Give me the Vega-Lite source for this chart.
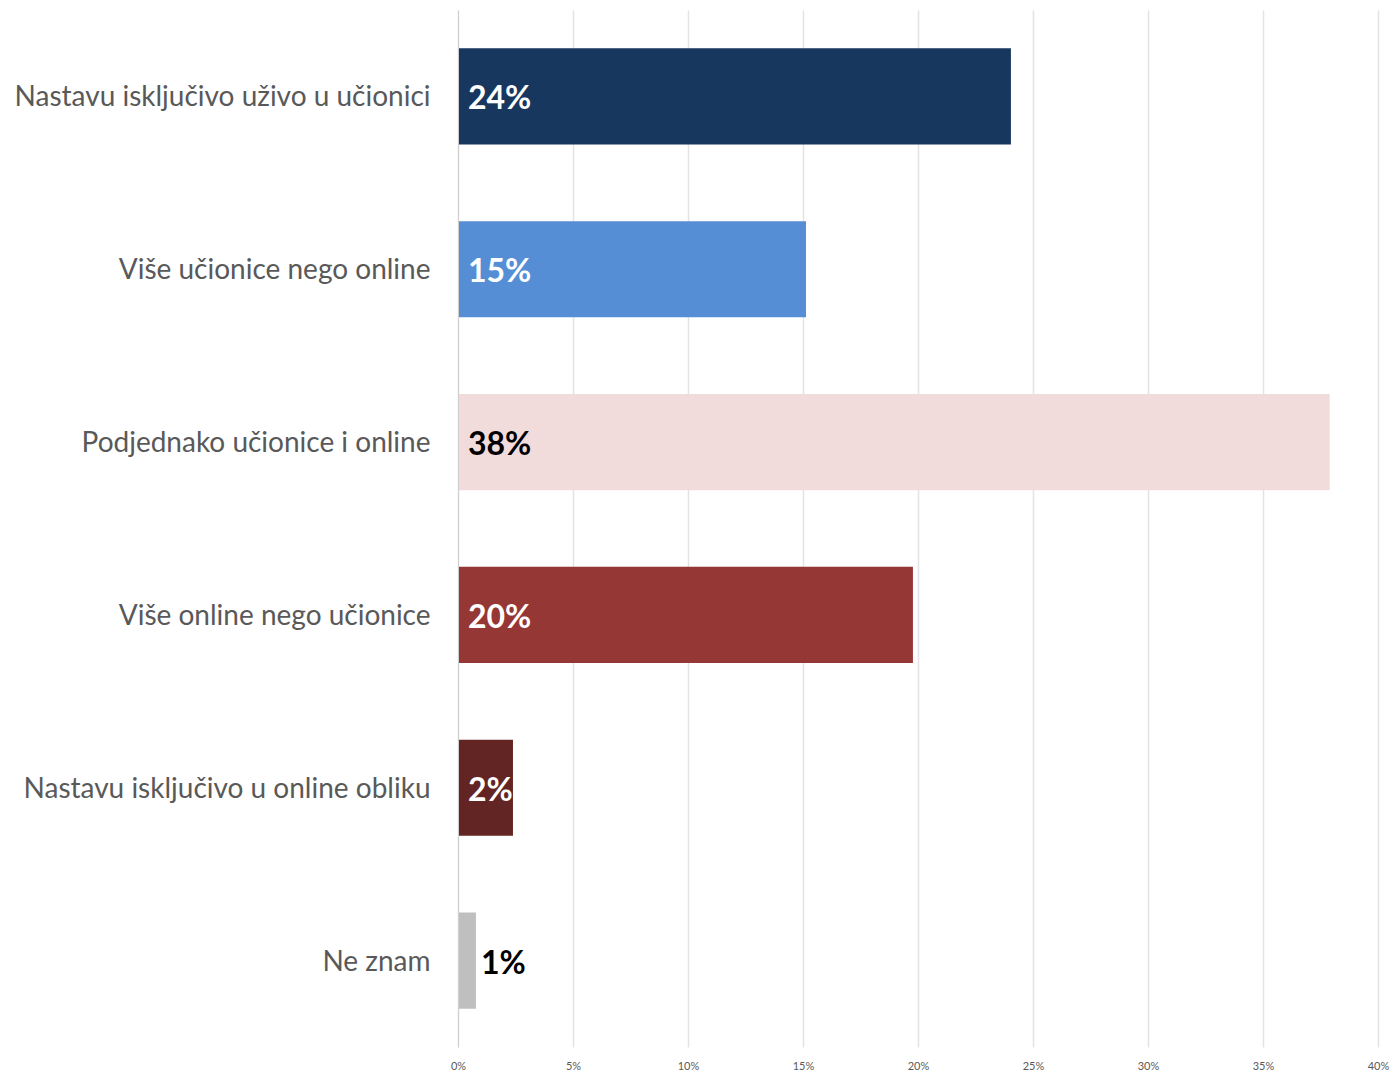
{
  "$schema": "https://vega.github.io/schema/vega-lite/v6.json",
  "width": 920,
  "height": 1037,
  "autosize": {"type": "none"},
  "padding": {"left": 458, "top": 10, "right": 15, "bottom": 25},
  "background": "white",
  "config": {"view": {"stroke": null}, "font": "Lato"},
  "data": {
    "values": [
      {"cat": "Nastavu isključivo uživo u učionici", "value": 0.2404},
      {"cat": "Više učionice nego online", "value": 0.1513},
      {"cat": "Podjednako učionice i online", "value": 0.379},
      {"cat": "Više online nego učionice", "value": 0.1978},
      {"cat": "Nastavu isključivo u online obliku", "value": 0.0239},
      {"cat": "Ne znam", "value": 0.0078}
    ]
  },
  "encoding": {
    "y": {
      "field": "cat",
      "type": "nominal",
      "sort": null,
      "scale": {"paddingInner": 0.444, "paddingOuter": 0.222},
      "axis": {
        "title": null,
        "ticks": false,
        "domain": true,
        "domainColor": "#cfcfcf",
        "domainWidth": 1,
        "zindex": 1,
        "labelPadding": 28,
        "labelFontSize": 28,
        "labelOffset": 2,
        "labelColor": "#595959",
        "labelFont": "Lato",
        "labelLimit": 500
      }
    }
  },
  "layer": [
    {
      "mark": {"type": "bar"},
      "encoding": {
        "x": {
          "field": "value",
          "type": "quantitative",
          "scale": {"domain": [0, 0.4], "nice": false},
          "axis": {
            "title": null,
            "format": ".0%",
            "values": [0, 0.05, 0.1, 0.15, 0.2, 0.25, 0.3, 0.35, 0.4],
            "grid": true,
            "gridColor": "#e3e3e3",
            "gridWidth": 1.5,
            "domain": false,
            "ticks": false,
            "labelFlush": false,
            "labelFontSize": 11,
            "labelColor": "#595959",
            "labelPadding": 13,
            "labelFont": "Lato"
          }
        },
        "color": {
          "field": "cat",
          "type": "nominal",
          "legend": null,
          "scale": {
            "domain": ["Nastavu isključivo uživo u učionici", "Više učionice nego online", "Podjednako učionice i online", "Više online nego učionice", "Nastavu isključivo u online obliku", "Ne znam"],
            "range": ["#17375e", "#558ed5", "#f2dcdb", "#953735", "#632523", "#bfbfbf"]
          }
        }
      }
    },
    {
      "transform": [{"filter": "datum.value >= 0.02"}],
      "mark": {"type": "text", "align": "left", "dx": 10, "dy": 3, "fontSize": 32, "fontWeight": "bold", "font": "Lato"},
      "encoding": {
        "x": {"datum": 0, "type": "quantitative"},
        "text": {"field": "value", "type": "quantitative", "format": ".0%"},
        "color": {
          "condition": {"test": "datum.cat === 'Podjednako učionice i online'", "value": "#000000"},
          "value": "#ffffff"
        }
      }
    },
    {
      "transform": [{"filter": "datum.value < 0.02"}],
      "mark": {"type": "text", "align": "left", "dx": 5, "dy": 3, "fontSize": 32, "fontWeight": "bold", "font": "Lato", "color": "#000000"},
      "encoding": {
        "x": {"field": "value", "type": "quantitative"},
        "text": {"field": "value", "type": "quantitative", "format": ".0%"}
      }
    }
  ]
}
